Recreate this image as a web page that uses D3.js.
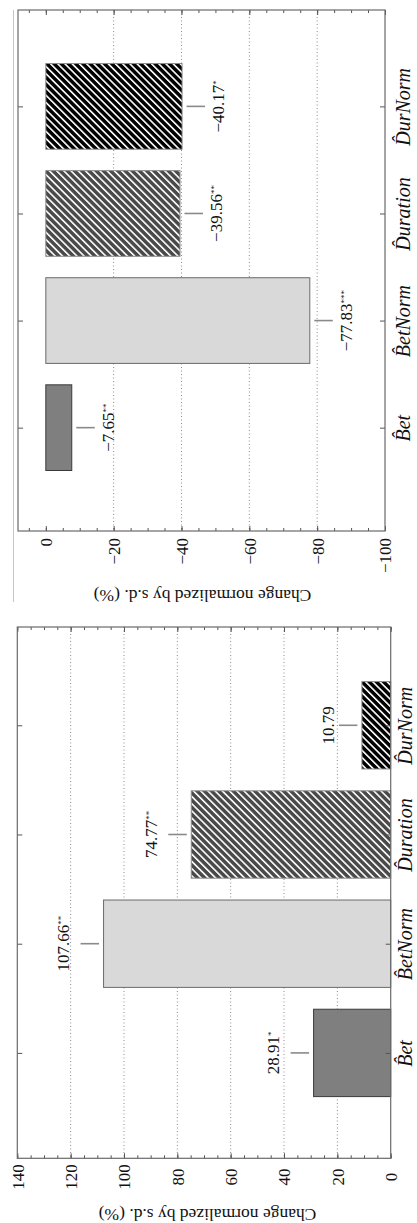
<!DOCTYPE html>
<html>
<head>
<meta charset="utf-8">
<script src="https://cdn.jsdelivr.net/npm/d3@7"></script>
<style>
  body { margin: 0; background: #fff; }
  svg { display: block; }
</style>
</head>
<body>
<div id="canvas"></div>
<script>
// Categories (with hat over the first letter)
var categories = ["B\u0302et", "B\u0302etNorm", "D\u0302uration", "D\u0302urNorm"];

// Left panel of the original figure (positive changes), drawn at the bottom
var posValues = [28.91, 107.66, 74.77, 10.79];
var posStars = ["*", "**", "**", ""];
var posTicks = [0, 20, 40, 60, 80, 100, 120, 140];

// Right panel of the original figure (negative changes), drawn at the top
var negValues = [-7.65, -77.83, -39.56, -40.17];
var negStars = ["**", "***", "**", "*"];
var negTicks = [0, -20, -40, -60, -80, -100];

var axisTitle = "Change normalized by s.d. (%)";

var serif = "'Liberation Serif', 'Times New Roman', serif";

var svg = d3.select("#canvas").append("svg")
  .attr("width", 417)
  .attr("height", 1223);

// Hatch patterns
var defs = svg.append("defs");
function hatch(id, bg) {
  var p = defs.append("pattern")
    .attr("id", id)
    .attr("patternUnits", "userSpaceOnUse")
    .attr("width", 5.1)
    .attr("height", 10)
    .attr("patternTransform", "rotate(-45)");
  p.append("rect").attr("width", 5.1).attr("height", 10).style("fill", bg);
  p.append("rect").attr("width", 1.6).attr("height", 10).style("fill", "#fff");
}
hatch("hatch-gray", "#4a4a4a");
hatch("hatch-black", "#000");

var barFills = ["#7f7f7f", "#d9d9d9", "url(#hatch-gray)", "url(#hatch-black)"];
var barStrokes = ["#3a3a3a", "#6a6a6a", "#8a8a8a", "#8a8a8a"];

// thin page edge line left of the upper panel
svg.append("line")
  .attr("x1", 13.5).attr("x2", 13.5)
  .attr("y1", 10).attr("y2", 602)
  .style("stroke", "#c4c4c4")
  .style("stroke-width", 1);

function drawPanel(o) {
  var g = svg.append("g");

  var x = d3.scaleLinear().domain(o.domain).range([o.left, o.right]);
  var y = d3.scaleLinear().domain([-0.965, 3.9]).range([o.bottom, o.top]);
  var bw = (y(0) - y(1)) * 0.8;

  // Grid
  g.selectAll(".grid").data(o.ticks.slice(1, -1)).enter().append("line")
    .attr("x1", function(d) { return x(d); })
    .attr("x2", function(d) { return x(d); })
    .attr("y1", o.top)
    .attr("y2", o.bottom)
    .style("stroke", "#8c8c8c")
    .style("stroke-width", 1)
    .style("stroke-dasharray", "1,2.5");

  // Bars
  g.selectAll(".bar").data(o.values).enter().append("rect")
    .attr("x", function(d) { return Math.min(x(0), x(d)); })
    .attr("width", function(d) { return Math.abs(x(d) - x(0)); })
    .attr("y", function(d, i) { return y(i) - bw / 2; })
    .attr("height", bw)
    .style("fill", function(d, i) { return barFills[i]; })
    .style("stroke", function(d, i) { return barStrokes[i]; })
    .style("stroke-width", 1);

  // Gray marks beyond the bar ends
  var dir = o.dir;
  function markStart(d) { return x(d) + dir * 4.5; }
  function markEnd(d) { return x(d) + dir * 23; }
  g.selectAll(".mark").data(o.values).enter().append("line")
    .attr("x1", markStart)
    .attr("x2", markEnd)
    .attr("y1", function(d, i) { return y(i); })
    .attr("y2", function(d, i) { return y(i); })
    .style("stroke", "#8a8a8a")
    .style("stroke-width", 1.6);

  // Value labels
  var labels = g.selectAll(".vlabel").data(o.values).enter().append("text")
    .attr("transform", function(d, i) {
      var bx;
      if (dir > 0) {
        bx = markEnd(d) + 19;
      } else {
        bx = markEnd(d) - (o.stars[i] ? 11.7 : 4.5);
      }
      return "translate(" + bx + "," + y(i) + ") rotate(-90)";
    })
    .attr("text-anchor", "middle")
    .style("font-family", serif)
    .style("font-size", "17px")
    .style("fill", "#111");
  labels.append("tspan")
    .text(function(d) { return (d < 0 ? "\u2212" : "") + Math.abs(d).toFixed(2); });
  labels.append("tspan")
    .attr("baseline-shift", "5px")
    .style("font-size", "9px")
    .text(function(d, i) { return o.stars[i]; });

  // Value axis (bottom) major ticks + labels
  var minor = d3.range(o.minorFrom, o.minorTo + 0.01, 5);
  var axB = g.append("g")
    .attr("transform", "translate(0," + o.bottom + ")")
    .style("color", "#555")
    .call(d3.axisBottom(x).tickValues(o.ticks).tickSize(-5));
  axB.select(".domain").remove();
  axB.selectAll("text")
    .attr("transform", "rotate(-90)")
    .attr("x", -o.tickLabelOffset)
    .attr("y", 0)
    .attr("dy", "0.35em")
    .attr("text-anchor", o.tickAnchor)
    .style("font-family", serif)
    .style("font-size", "17px")
    .style("fill", "#111");

  var axBm = g.append("g")
    .attr("transform", "translate(0," + o.bottom + ")")
    .style("color", "#555")
    .call(d3.axisBottom(x).tickValues(minor).tickSize(-3).tickFormat(""));
  axBm.select(".domain").remove();

  // Mirrored ticks on the top edge
  var axT = g.append("g")
    .attr("transform", "translate(0," + o.top + ")")
    .style("color", "#555")
    .call(d3.axisTop(x).tickValues(o.ticks).tickSize(-5).tickFormat(""));
  axT.select(".domain").remove();
  var axTm = g.append("g")
    .attr("transform", "translate(0," + o.top + ")")
    .style("color", "#555")
    .call(d3.axisTop(x).tickValues(minor).tickSize(-3).tickFormat(""));
  axTm.select(".domain").remove();

  // Category axis (right) + mirrored ticks (left)
  var axR = g.append("g")
    .attr("transform", "translate(" + o.right + ",0)")
    .style("color", "#555")
    .call(d3.axisRight(y).tickValues([0, 1, 2, 3]).tickSize(-5)
      .tickFormat(function(i) { return categories[i]; }));
  axR.select(".domain").remove();
  axR.selectAll("text")
    .attr("transform", "rotate(-90)")
    .attr("x", 0)
    .attr("y", o.catOffset)
    .attr("dy", 0)
    .attr("text-anchor", "middle")
    .style("font-family", serif)
    .style("font-style", "italic")
    .style("font-size", "20px")
    .style("fill", "#111");

  var axL = g.append("g")
    .attr("transform", "translate(" + o.left + ",0)")
    .style("color", "#555")
    .call(d3.axisLeft(y).tickValues([0, 1, 2, 3]).tickSize(-5).tickFormat(""));
  axL.select(".domain").remove();

  // Frame
  g.append("rect")
    .attr("x", o.left)
    .attr("y", o.top)
    .attr("width", o.right - o.left)
    .attr("height", o.bottom - o.top)
    .style("fill", "none")
    .style("stroke", "#6a6a6a")
    .style("stroke-width", 1.2);

  // Axis title (upside down)
  g.append("text")
    .attr("transform", "translate(" + o.titleX + "," + o.titleY + ") rotate(180)")
    .attr("text-anchor", "middle")
    .style("font-family", serif)
    .style("font-size", "17.5px")
    .style("fill", "#111")
    .text(axisTitle);
}

// Upper panel: negative changes
drawPanel({
  values: negValues,
  stars: negStars,
  ticks: negTicks,
  domain: [8.2, -100],
  minorFrom: -100,
  minorTo: 5,
  left: 18, right: 385, top: 10, bottom: 531,
  dir: 1,
  tickAnchor: "end",
  tickLabelOffset: 7,
  catOffset: 25,
  titleX: 202.5, titleY: 590
});

// Lower panel: positive changes
drawPanel({
  values: posValues,
  stars: posStars,
  ticks: posTicks,
  domain: [140, 0],
  minorFrom: 0,
  minorTo: 140,
  left: 17.3, right: 390.7, top: 627, bottom: 1158.3,
  dir: -1,
  tickAnchor: "middle",
  tickLabelOffset: 18.7,
  catOffset: 21.5,
  titleX: 207.5, titleY: 1208.5
});
</script>
</body>
</html>
